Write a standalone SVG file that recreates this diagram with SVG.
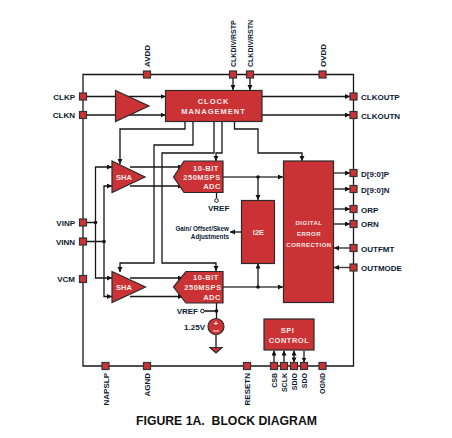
<svg xmlns="http://www.w3.org/2000/svg" width="452" height="438" viewBox="0 0 452 438">
<style>
text{font-family:"Liberation Sans",Arial,sans-serif;font-weight:bold}
.l{font-size:8px;fill:#0c1a33}
.w{font-size:7.5px;fill:#fbe9e4;text-anchor:middle}
.c{fill:none;stroke:#161616;stroke-width:1.3}
.g{stroke:#444;stroke-width:1.5}
.b{fill:#cb3236;stroke:#2a2a2a;stroke-width:1.2}
.p{fill:#cb3236;stroke:#333;stroke-width:1.2}
.d{fill:#111}
</style>
<defs>
<marker id="a" markerWidth="6" markerHeight="6" refX="5" refY="2.5" orient="auto" markerUnits="userSpaceOnUse"><path d="M0 0L5 2.5L0 5z" fill="#111"/></marker>
<marker id="s" markerWidth="6" markerHeight="6" refX="0" refY="2.5" orient="auto" markerUnits="userSpaceOnUse"><path d="M5 0L0 2.5L5 5z" fill="#111"/></marker>
<rect id="pad" x="-3.5" y="-3.5" width="7" height="7" class="p"/>
</defs>
<rect width="452" height="438" fill="#fff"/>
<g id="connectors">
<path class="c" d="M83 74.5H353.5V366H83Z"/>
<g marker-end="url(#a)">
<path class="c" marker-end="url(#a)" d="M86 96.5H165.5"/>
<path class="c" marker-end="url(#a)" d="M86 115H165.5"/>
<path class="c" marker-end="url(#a)" d="M262 96.5H350"/>
<path class="c" marker-end="url(#a)" d="M262 115H350"/>
<path class="c" marker-end="url(#a)" d="M233 78V90"/>
<path class="c" marker-end="url(#a)" d="M250 78V90"/>
<path class="c" marker-end="url(#a)" d="M185 122V129H120V164"/>
<path class="c" marker-end="url(#a)" d="M193 122V145H154V263H120V272"/>
<path class="c" marker-end="url(#a)" d="M214 122V153H162V263H216V271"/>
<path class="c" marker-end="url(#a)" d="M222 122V153H216V161"/>
<path class="c" marker-end="url(#a)" d="M234.500 122V129H258V153H302V161"/>
<path class="c" marker-end="url(#a)" d="M95.500 222.500V167H112"/>
<path class="c" marker-end="url(#a)" d="M95.500 222.500V278H112"/>
<path class="c" marker-end="url(#a)" d="M104 241.500V186H112"/>
<path class="c" marker-end="url(#a)" d="M104 241.500V296.500H112"/>
<path class="c" marker-end="url(#a)" d="M130 167H183"/>
<path class="c" marker-end="url(#a)" d="M130 186H183"/>
<path class="c" marker-end="url(#a)" d="M130 278H183"/>
<path class="c" marker-end="url(#a)" d="M130 296.500H183"/>
<path class="c g" marker-end="url(#a)" d="M223 177H283"/>
<path class="c g" marker-end="url(#a)" d="M223 287H283"/>
<path class="c" marker-end="url(#a)" d="M258 177V200"/>
<path class="c" marker-end="url(#a)" d="M258 287V263.500"/>
<path class="c" marker-end="url(#a)" d="M241 232H230"/>
<path class="c g" marker-end="url(#a)" d="M334 173H350"/>
<path class="c" marker-end="url(#a)" d="M334 189H350"/>
<path class="c" marker-end="url(#a)" d="M334 209H350"/>
<path class="c" marker-end="url(#a)" d="M334 224H350"/>
<path class="c g" marker-end="url(#a)" d="M350 248H334"/>
<path class="c g" marker-end="url(#a)" d="M350 267.500H334"/>
<path class="c" marker-end="url(#a)" d="M274 362.500V350.500"/>
<path class="c" marker-end="url(#a)" d="M284 362.500V350.500"/>
<path class="c" marker-start="url(#s)" marker-end="url(#a)" d="M294 362.500V350.500"/>
<path class="c" marker-end="url(#a)" d="M304 350.500V362.500"/>
</g>
<path class="c" d="M86 222.500H95.500M86 241.500H104M216.500 192V198M216.500 303V318M204.500 311H216.500M216 334V347"/>
<circle class="d" cx="95.500" cy="222.500" r="1.800"/>
<circle class="d" cx="104" cy="241.500" r="1.800"/>
<circle class="d" cx="258" cy="177" r="1.800"/>
<circle class="d" cx="258" cy="287" r="1.800"/>
<circle class="d" cx="216.500" cy="311" r="1.800"/>
<circle cx="216.500" cy="200.500" r="1.800" fill="#fff" stroke="#111"/>
<circle cx="202.500" cy="311" r="1.800" fill="#fff" stroke="#111"/>
</g>
<g id="clock-buffer"><path class="b" d="M115.500 90.500L149 106L115.500 121.500Z"/></g>
<g id="clock-management"><rect class="b" x="165.500" y="90.500" width="96.500" height="31"/><text class="w" x="213.500" y="104" letter-spacing="1">CLOCK</text><text class="w" x="213.500" y="114" letter-spacing="1">MANAGEMENT</text></g>
<g id="sha-top"><path class="b" d="M112 161L145 177L112 192.500Z"/><text class="w" x="124" y="180" font-size="8">SHA</text></g>
<g id="sha-bottom"><path class="b" d="M112 271.500L145.500 287L112 302.500Z"/><text class="w" x="124" y="290">SHA</text></g>
<g id="adc-top"><path class="b" d="M173.500 177L184 161H223V192.500H184Z"/><text class="w" x="206" y="171" letter-spacing=".5">10-BIT</text><text class="w" x="202" y="180" letter-spacing=".5">250MSPS</text><text class="w" x="212" y="189" letter-spacing=".5">ADC</text></g>
<g id="adc-bottom"><path class="b" d="M173.500 287L186 271.500H223V303H186Z"/><text class="w" x="206" y="280" letter-spacing=".5">10-BIT</text><text class="w" x="203" y="290" letter-spacing=".5">250MSPS</text><text class="w" x="212" y="300" letter-spacing=".5">ADC</text></g>
<g id="i2e"><rect class="b" x="241.500" y="200.500" width="33" height="63"/><text class="w" x="258.500" y="235">I2E</text></g>
<g id="digital-error-correction"><rect class="b" x="283.500" y="161" width="50" height="141.500"/><text class="w" x="309" y="225" style="font-size:6px" letter-spacing=".5">DIGITAL</text><text class="w" x="309" y="236" style="font-size:6px" letter-spacing=".5">ERROR</text><text class="w" x="309" y="247" style="font-size:6px" letter-spacing=".5">CORRECTION</text></g>
<g id="spi-control"><rect class="b" x="264" y="319" width="50" height="31"/><text class="w" x="287.500" y="333" letter-spacing=".5">SPI</text><text class="w" x="289" y="342.500" letter-spacing=".5">CONTROL</text></g>
<g id="vref-source"><circle class="b" cx="216" cy="326.500" r="8"/><text class="w" x="216" y="326">+</text><path d="M213 331H219" stroke="#fbe9e4" stroke-width="1"/><text class="l" x="205" y="330" text-anchor="end">1.25V</text></g>
<g id="ground"><path class="b" d="M210 347.500H222L216 353Z"/></g>
<g id="vref-top-label"><text class="l" x="208" y="211">VREF</text></g>
<g id="vref-bottom-label"><text class="l" x="198" y="314" text-anchor="end">VREF</text></g>
<g id="adjust-label"><text class="l" style="font-size:6.300px" x="229" y="231" text-anchor="end">Gain/ Offset/Skew</text><text class="l" style="font-size:6.300px" x="229" y="239" text-anchor="end">Adjustments</text></g>
<g id="pin-clkp"><use href="#pad" x="83" y="96.500"/><text class="l" x="75" y="99.500" text-anchor="end">CLKP</text></g>
<g id="pin-clkn"><use href="#pad" x="83" y="115"/><text class="l" x="75" y="118" text-anchor="end">CLKN</text></g>
<g id="pin-vinp"><use href="#pad" x="83" y="222.500"/><text class="l" x="75" y="226" text-anchor="end">VINP</text></g>
<g id="pin-vinn"><use href="#pad" x="83" y="241.500"/><text class="l" x="75" y="245" text-anchor="end">VINN</text></g>
<g id="pin-vcm"><use href="#pad" x="83" y="279"/><text class="l" x="75" y="282" text-anchor="end">VCM</text></g>
<g id="pin-avdd"><use href="#pad" x="147" y="74.500"/><text class="l" transform="translate(150 67) rotate(-90)">AVDD</text></g>
<g id="pin-clkdiv-rstp"><use href="#pad" x="233" y="74.500"/><text class="l" style="font-size:7px" transform="translate(236 67) rotate(-90)">CLKDIV/RSTP</text></g>
<g id="pin-clkdiv-rstn"><use href="#pad" x="250" y="74.500"/><text class="l" style="font-size:7px" transform="translate(253 67) rotate(-90)">CLKDIV/RSTN</text></g>
<g id="pin-ovdd"><use href="#pad" x="322.500" y="74.500"/><text class="l" transform="translate(325.500 67) rotate(-90)">OVDD</text></g>
<g id="pin-clkoutp"><use href="#pad" x="353.500" y="96.500"/><text class="l" x="361" y="100">CLKOUTP</text></g>
<g id="pin-clkoutn"><use href="#pad" x="353.500" y="115"/><text class="l" x="361" y="118.500">CLKOUTN</text></g>
<g id="pin-dp"><use href="#pad" x="353.500" y="173"/><text class="l" x="361" y="177">D[9:0]P</text></g>
<g id="pin-dn"><use href="#pad" x="353.500" y="189"/><text class="l" x="361" y="193">D[9:0]N</text></g>
<g id="pin-orp"><use href="#pad" x="353.500" y="209"/><text class="l" x="361" y="212.500">ORP</text></g>
<g id="pin-orn"><use href="#pad" x="353.500" y="224"/><text class="l" x="361" y="226.500">ORN</text></g>
<g id="pin-outfmt"><use href="#pad" x="353.500" y="248"/><text class="l" x="361" y="252">OUTFMT</text></g>
<g id="pin-outmode"><use href="#pad" x="353.500" y="267.500"/><text class="l" x="361" y="270.500">OUTMODE</text></g>
<g id="pin-napslp"><use href="#pad" x="105.500" y="366"/><text class="l" transform="translate(108.500 373) rotate(-90)" text-anchor="end">NAPSLP</text></g>
<g id="pin-agnd"><use href="#pad" x="147" y="366"/><text class="l" transform="translate(150 373) rotate(-90)" text-anchor="end">AGND</text></g>
<g id="pin-resetn"><use href="#pad" x="247" y="366"/><text class="l" transform="translate(250 373) rotate(-90)" text-anchor="end">RESETN</text></g>
<g id="pin-csb"><use href="#pad" x="274" y="366"/><text class="l" style="font-size:7px" transform="translate(276.500 373) rotate(-90)" text-anchor="end">CSB</text></g>
<g id="pin-sclk"><use href="#pad" x="284" y="366"/><text class="l" style="font-size:7px" transform="translate(286.500 373) rotate(-90)" text-anchor="end">SCLK</text></g>
<g id="pin-sdio"><use href="#pad" x="294" y="366"/><text class="l" style="font-size:7px" transform="translate(296.500 373) rotate(-90)" text-anchor="end">SDIO</text></g>
<g id="pin-sdo"><use href="#pad" x="304" y="366"/><text class="l" style="font-size:7px" transform="translate(306.500 373) rotate(-90)" text-anchor="end">SDO</text></g>
<g id="pin-ognd"><use href="#pad" x="322.500" y="366"/><text class="l" style="font-size:7px" transform="translate(325 373) rotate(-90)" text-anchor="end">OGND</text></g>
<text x="136" y="425" font-size="12" fill="#111" textLength="181" lengthAdjust="spacingAndGlyphs" xml:space="preserve">FIGURE 1A.  BLOCK DIAGRAM</text>
</svg>
